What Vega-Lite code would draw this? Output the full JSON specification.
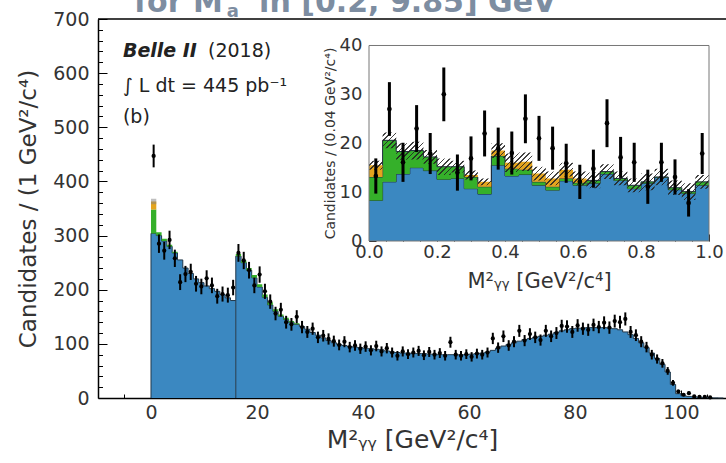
{
"$schema": "https://vega.github.io/schema/vega-lite/v6.json",
"width": 628, "height": 379,
"autosize": {"type": "none"},
"padding": {"left": 98, "top": 19, "right": 0, "bottom": 65},
"background": "white",
"config": {"font": "DejaVu Sans", "view": {"stroke": null},
  "axis": {"grid": false, "labelColor": "#333333", "titleColor": "#333333", "titleFontWeight": "normal", "tickColor": "black", "domainColor": "black", "labelFont": "DejaVu Sans", "titleFont": "DejaVu Sans", "labelOverlap": false, "labelFlush": false, "labelBound": false}},
"datasets": {
 "mainBlue": [
  {"x":0,"s":"A","b":304},{"x":1,"s":"A","b":300},{"x":2,"s":"A","b":290},{"x":3,"s":"A","b":280},{"x":4,"s":"A","b":268},{"x":5,"s":"A","b":255},{"x":6,"s":"A","b":240},{"x":7,"s":"A","b":230},{"x":8,"s":"A","b":220},{"x":9,"s":"A","b":213},{"x":10,"s":"A","b":207},{"x":11,"s":"A","b":202},{"x":12,"s":"A","b":197},{"x":13,"s":"A","b":191},{"x":14,"s":"A","b":185},{"x":15,"s":"A","b":180},{"x":16,"s":"A","b":180},
  {"x":16,"s":"B","b":262},{"x":17,"s":"B","b":250},{"x":18,"s":"B","b":236},{"x":19,"s":"B","b":222},{"x":20,"s":"B","b":205},{"x":21,"s":"B","b":186},{"x":22,"s":"B","b":172},{"x":23,"s":"B","b":160},{"x":24,"s":"B","b":151},{"x":25,"s":"B","b":145},{"x":26,"s":"B","b":140},{"x":27,"s":"B","b":136},{"x":28,"s":"B","b":132},{"x":29,"s":"B","b":127},{"x":30,"s":"B","b":121},{"x":31,"s":"B","b":116},{"x":32,"s":"B","b":111},{"x":33,"s":"B","b":106},{"x":34,"s":"B","b":102},{"x":35,"s":"B","b":99},{"x":36,"s":"B","b":97},{"x":37,"s":"B","b":95},{"x":38,"s":"B","b":94},{"x":39,"s":"B","b":93},{"x":40,"s":"B","b":92},{"x":41,"s":"B","b":91},{"x":42,"s":"B","b":90},{"x":43,"s":"B","b":89},{"x":44,"s":"B","b":87},{"x":45,"s":"B","b":85},{"x":46,"s":"B","b":84},{"x":47,"s":"B","b":83},{"x":48,"s":"B","b":83},{"x":49,"s":"B","b":82},{"x":50,"s":"B","b":82},{"x":51,"s":"B","b":82},{"x":52,"s":"B","b":81},{"x":53,"s":"B","b":81},{"x":54,"s":"B","b":80},{"x":55,"s":"B","b":80},{"x":56,"s":"B","b":80},{"x":57,"s":"B","b":80},{"x":58,"s":"B","b":80},{"x":59,"s":"B","b":80},{"x":60,"s":"B","b":81},{"x":61,"s":"B","b":82},{"x":62,"s":"B","b":83},{"x":63,"s":"B","b":85},{"x":64,"s":"B","b":88},{"x":65,"s":"B","b":92},{"x":66,"s":"B","b":96},{"x":67,"s":"B","b":99},{"x":68,"s":"B","b":102},{"x":69,"s":"B","b":105},{"x":70,"s":"B","b":108},{"x":71,"s":"B","b":110},{"x":72,"s":"B","b":112},{"x":73,"s":"B","b":114},{"x":74,"s":"B","b":116},{"x":75,"s":"B","b":118},{"x":76,"s":"B","b":121},{"x":77,"s":"B","b":124},{"x":78,"s":"B","b":126},{"x":79,"s":"B","b":128},{"x":80,"s":"B","b":129},{"x":81,"s":"B","b":129},{"x":82,"s":"B","b":130},{"x":83,"s":"B","b":130},{"x":84,"s":"B","b":130},{"x":85,"s":"B","b":130},{"x":86,"s":"B","b":129},{"x":87,"s":"B","b":128},{"x":88,"s":"B","b":126},{"x":89,"s":"B","b":122},{"x":90,"s":"B","b":117},{"x":91,"s":"B","b":110},{"x":92,"s":"B","b":102},{"x":93,"s":"B","b":93},{"x":94,"s":"B","b":83},{"x":95,"s":"B","b":73},{"x":96,"s":"B","b":62},{"x":97,"s":"B","b":48},{"x":98,"s":"B","b":25},{"x":99,"s":"B","b":8},{"x":100,"s":"B","b":4},{"x":101,"s":"B","b":3},{"x":102,"s":"B","b":2},{"x":103,"s":"B","b":1.5},{"x":104,"s":"B","b":1},{"x":105,"s":"B","b":0.5},{"x":106,"s":"B","b":0.2},{"x":107,"s":"B","b":0},{"x":108,"s":"B","b":0}
 ],
 "mainGreen": [
  {"x":0,"s":"A","b":304,"g":348},{"x":1,"s":"A","b":300,"g":306},{"x":2,"s":"A","b":290,"g":294},{"x":3,"s":"A","b":280,"g":283},{"x":4,"s":"A","b":268,"g":270},{"x":5,"s":"A","b":255,"g":255},
  {"x":16,"s":"B","b":262,"g":266},{"x":17,"s":"B","b":250,"g":254},{"x":18,"s":"B","b":236,"g":240},{"x":19,"s":"B","b":222,"g":227},{"x":20,"s":"B","b":205,"g":210},{"x":21,"s":"B","b":186,"g":191},{"x":22,"s":"B","b":172,"g":177},{"x":23,"s":"B","b":160,"g":164},{"x":24,"s":"B","b":151,"g":154},{"x":25,"s":"B","b":145,"g":148},{"x":26,"s":"B","b":140,"g":142},{"x":27,"s":"B","b":136,"g":138},{"x":28,"s":"B","b":132,"g":132}
 ],
 "mainOrange": [{"x":0,"g":348,"o":363,"hl":358,"hh":368},{"x":1,"g":348,"o":363,"hl":358,"hh":368}],
 "mainPts": [
  {"x":0.5,"n":447,"l":426,"h":468},{"x":1.5,"n":285,"l":268,"h":302},{"x":2.5,"n":272,"l":255.5,"h":288.5},{"x":3.5,"n":292,"l":275,"h":309},{"x":4.5,"n":258,"l":242,"h":274},{"x":5.5,"n":214,"l":199.4,"h":228.6},{"x":6.5,"n":229,"l":214,"h":244},{"x":7.5,"n":233,"l":218,"h":248},{"x":8.5,"n":211,"l":196.5,"h":225.5},{"x":9.5,"n":206,"l":191.6,"h":220.4},{"x":10.5,"n":221,"l":206.1,"h":235.9},{"x":11.5,"n":208,"l":193.6,"h":222.4},{"x":12.5,"n":188,"l":174.3,"h":201.7},{"x":13.5,"n":192,"l":178.1,"h":205.9},{"x":14.5,"n":190,"l":176.2,"h":203.8},{"x":15.5,"n":204,"l":189.7,"h":218.3},
  {"x":16.5,"n":268,"l":251.6,"h":284.4},{"x":17.5,"n":254,"l":238,"h":270},{"x":18.5,"n":236,"l":220.6,"h":251.4},{"x":19.5,"n":208,"l":193.6,"h":222.4},{"x":20.5,"n":228,"l":212.9,"h":243.1},{"x":21.5,"n":197,"l":183,"h":211},{"x":22.5,"n":178,"l":164.7,"h":191.3},{"x":23.5,"n":156,"l":143.5,"h":168.5},{"x":24.5,"n":163,"l":150.2,"h":175.8},{"x":25.5,"n":140,"l":128.2,"h":151.8},{"x":26.5,"n":136,"l":124.3,"h":147.7},{"x":27.5,"n":150,"l":137.8,"h":162.2},{"x":28.5,"n":131,"l":119.6,"h":142.4},{"x":29.5,"n":122,"l":111,"h":133},{"x":30.5,"n":128,"l":116.7,"h":139.3},{"x":31.5,"n":112,"l":101.4,"h":122.6},{"x":32.5,"n":115,"l":104.3,"h":125.7},{"x":33.5,"n":109,"l":98.6,"h":119.4},{"x":34.5,"n":105,"l":94.8,"h":115.2},{"x":35.5,"n":98,"l":88.1,"h":107.9},{"x":36.5,"n":104,"l":93.8,"h":114.2},{"x":37.5,"n":94,"l":84.3,"h":103.7},{"x":38.5,"n":97,"l":87.2,"h":106.8},{"x":39.5,"n":91,"l":81.5,"h":100.5},{"x":40.5,"n":95,"l":85.3,"h":104.7},{"x":41.5,"n":88,"l":78.6,"h":97.4},{"x":42.5,"n":96,"l":86.2,"h":105.8},{"x":43.5,"n":86,"l":76.7,"h":95.3},{"x":44.5,"n":92,"l":82.4,"h":101.6},{"x":45.5,"n":84,"l":74.8,"h":93.2},{"x":46.5,"n":78,"l":69.2,"h":86.8},{"x":47.5,"n":86,"l":76.7,"h":95.3},{"x":48.5,"n":81,"l":72,"h":90},{"x":49.5,"n":84,"l":74.8,"h":93.2},{"x":50.5,"n":87,"l":77.7,"h":96.3},{"x":51.5,"n":79,"l":70.1,"h":87.9},{"x":52.5,"n":85,"l":75.8,"h":94.2},{"x":53.5,"n":80,"l":71.1,"h":88.9},{"x":54.5,"n":83,"l":73.9,"h":92.1},{"x":55.5,"n":78,"l":69.2,"h":86.8},{"x":56.5,"n":103,"l":92.9,"h":113.1},{"x":57.5,"n":80,"l":71.1,"h":88.9},{"x":58.5,"n":78,"l":69.2,"h":86.8},{"x":59.5,"n":81,"l":72,"h":90},{"x":60.5,"n":76,"l":67.3,"h":84.7},{"x":61.5,"n":82,"l":72.9,"h":91.1},{"x":62.5,"n":80,"l":71.1,"h":88.9},{"x":63.5,"n":84,"l":74.8,"h":93.2},{"x":64.5,"n":110,"l":99.5,"h":120.5},{"x":65.5,"n":93,"l":83.4,"h":102.6},{"x":66.5,"n":114,"l":103.3,"h":124.7},{"x":67.5,"n":97,"l":87.2,"h":106.8},{"x":68.5,"n":104,"l":93.8,"h":114.2},{"x":69.5,"n":124,"l":112.9,"h":135.1},{"x":70.5,"n":106,"l":95.7,"h":116.3},{"x":71.5,"n":118,"l":107.1,"h":128.9},{"x":72.5,"n":112,"l":101.4,"h":122.6},{"x":73.5,"n":107,"l":96.7,"h":117.3},{"x":74.5,"n":124,"l":112.9,"h":135.1},{"x":75.5,"n":114,"l":103.3,"h":124.7},{"x":76.5,"n":120,"l":109,"h":131},{"x":77.5,"n":133,"l":121.5,"h":144.5},{"x":78.5,"n":132,"l":120.5,"h":143.5},{"x":79.5,"n":122,"l":111,"h":133},{"x":80.5,"n":134,"l":122.4,"h":145.6},{"x":81.5,"n":128,"l":116.7,"h":139.3},{"x":82.5,"n":126,"l":114.8,"h":137.2},{"x":83.5,"n":135,"l":123.4,"h":146.6},{"x":84.5,"n":131,"l":119.6,"h":142.4},{"x":85.5,"n":139,"l":127.2,"h":150.8},{"x":86.5,"n":130,"l":118.6,"h":141.4},{"x":87.5,"n":142,"l":130.1,"h":153.9},{"x":88.5,"n":140,"l":128.2,"h":151.8},{"x":89.5,"n":146,"l":133.9,"h":158.1},{"x":90.5,"n":122,"l":111,"h":133},{"x":91.5,"n":116,"l":105.2,"h":126.8},{"x":92.5,"n":104,"l":93.8,"h":114.2},{"x":93.5,"n":94,"l":84.3,"h":103.7},{"x":94.5,"n":80,"l":71.1,"h":88.9},{"x":95.5,"n":72,"l":63.5,"h":80.5},{"x":96.5,"n":64,"l":56,"h":72},{"x":97.5,"n":50,"l":42.9,"h":57.1},{"x":98.5,"n":28,"l":22.7,"h":33.3},{"x":99.5,"n":12,"l":8.5,"h":15.5},{"x":100.5,"n":6,"l":3.6,"h":8.4},{"x":101.5,"n":9,"l":6,"h":12},{"x":102.5,"n":3,"l":1.3,"h":4.7},{"x":103.5,"n":2,"l":0.6,"h":3.4},{"x":104.5,"n":2,"l":0.6,"h":3.4},{"x":105.5,"n":1,"l":0,"h":2}
 ],
 "inset": [
  {"x":0.00,"b":8.3,"g":13.1,"o":15.5,"hl":14.6,"hh":16.4},
  {"x":0.04,"b":12.1,"g":20.6,"o":20.6,"hl":19.0,"hh":22.2},
  {"x":0.08,"b":13.7,"g":18.3,"o":18.3,"hl":16.6,"hh":20.0},
  {"x":0.12,"b":15.0,"g":18.5,"o":18.5,"hl":16.7,"hh":20.3},
  {"x":0.16,"b":14.4,"g":17.2,"o":17.2,"hl":15.8,"hh":18.6},
  {"x":0.20,"b":12.6,"g":15.2,"o":15.2,"hl":13.5,"hh":16.9},
  {"x":0.24,"b":12.8,"g":15.2,"o":15.2,"hl":14.0,"hh":16.4},
  {"x":0.28,"b":10.7,"g":13.1,"o":13.5,"hl":12.6,"hh":14.4},
  {"x":0.32,"b":9.6,"g":11.1,"o":12.1,"hl":11.4,"hh":12.8},
  {"x":0.36,"b":15.5,"g":17.4,"o":18.5,"hl":17.0,"hh":20.0},
  {"x":0.40,"b":13.3,"g":14.8,"o":16.0,"hl":14.1,"hh":17.9},
  {"x":0.44,"b":13.6,"g":14.6,"o":16.2,"hl":14.3,"hh":18.1},
  {"x":0.48,"b":11.4,"g":12.1,"o":13.8,"hl":12.4,"hh":15.2},
  {"x":0.52,"b":10.4,"g":11.1,"o":12.8,"hl":11.4,"hh":14.2},
  {"x":0.56,"b":12.3,"g":12.8,"o":14.6,"hl":13.2,"hh":16.0},
  {"x":0.60,"b":11.4,"g":11.9,"o":12.8,"hl":11.4,"hh":14.2},
  {"x":0.64,"b":11.8,"g":12.4,"o":12.4,"hl":10.8,"hh":14.0},
  {"x":0.68,"b":13.7,"g":14.2,"o":14.2,"hl":12.7,"hh":15.7},
  {"x":0.72,"b":12.4,"g":12.8,"o":12.8,"hl":11.4,"hh":14.2},
  {"x":0.76,"b":10.7,"g":11.4,"o":11.4,"hl":10.0,"hh":12.8},
  {"x":0.80,"b":11.8,"g":12.1,"o":12.1,"hl":10.4,"hh":13.8},
  {"x":0.84,"b":13.0,"g":13.1,"o":13.1,"hl":11.4,"hh":14.8},
  {"x":0.88,"b":10.5,"g":10.9,"o":10.9,"hl":9.4,"hh":12.4},
  {"x":0.92,"b":9.7,"g":10.1,"o":10.1,"hl":8.4,"hh":11.8},
  {"x":0.96,"b":11.4,"g":12.1,"o":12.1,"hl":10.7,"hh":13.5},
  {"x":1.00,"b":11.4,"g":12.1,"o":12.1,"hl":10.7,"hh":13.5}
 ],
 "insetPts": [
  {"x":0.02,"n":13.3,"l":9.7,"h":16.9},{"x":0.06,"n":27.0,"l":21.5,"h":32.5},{"x":0.10,"n":16.1,"l":12.1,"h":20.1},{"x":0.14,"n":23.0,"l":18.2,"h":27.8},{"x":0.18,"n":17.9,"l":13.7,"h":22.1},{"x":0.22,"n":30.0,"l":24.5,"h":35.5},{"x":0.26,"n":14.0,"l":10.3,"h":17.7},{"x":0.30,"n":16.9,"l":12.4,"h":21.4},{"x":0.34,"n":22.0,"l":17.3,"h":26.7},{"x":0.38,"n":18.9,"l":14.6,"h":23.2},{"x":0.42,"n":18.0,"l":13.6,"h":22.4},{"x":0.46,"n":25.0,"l":20.0,"h":30.0},{"x":0.50,"n":21.0,"l":16.4,"h":25.6},{"x":0.54,"n":19.0,"l":14.6,"h":23.4},{"x":0.58,"n":15.9,"l":11.9,"h":19.9},{"x":0.62,"n":12.1,"l":8.6,"h":15.6},{"x":0.66,"n":14.8,"l":10.9,"h":18.7},{"x":0.70,"n":24.1,"l":19.2,"h":29.0},{"x":0.74,"n":17.1,"l":12.9,"h":21.3},{"x":0.78,"n":16.1,"l":12.1,"h":20.1},{"x":0.82,"n":11.1,"l":7.6,"h":14.6},{"x":0.86,"n":16.1,"l":12.1,"h":20.1},{"x":0.90,"n":13.1,"l":9.5,"h":16.7},{"x":0.94,"n":7.8,"l":5.0,"h":10.6},{"x":0.98,"n":17.9,"l":13.7,"h":22.1}
 ]
},
"layer": [
 {"layer": [
  {"data": {"name": "mainBlue"},
   "mark": {"type": "area", "interpolate": "step-after", "color": "#3B88C1", "opacity": 1, "line": {"color": "#22384a", "strokeWidth": 1}},
   "encoding": {
    "x": {"field": "x", "type": "quantitative", "scale": {"domain": [-10, 108.5], "nice": false, "zero": false},
      "axis": {"orient": "bottom", "title": "M²ᵧᵧ [GeV²/c⁴]", "values": [0,20,40,60,80,100], "labelOverlap": false,
        "tickSize": -8, "domainWidth": 1.5, "tickWidth": 1, "labelFontSize": 19, "titleFontSize": 25, "labelPadding": 13, "titlePadding": 5}},
    "y": {"field": "b", "type": "quantitative", "stack": null, "scale": {"domain": [0, 700], "nice": false},
      "axis": {"orient": "left", "title": "Candidates / (1 GeV²/c⁴)", "values": [0,100,200,300,400,500,600,700], "labelOverlap": false,
        "tickSize": -9, "domainWidth": 1.5, "tickWidth": 1, "labelFontSize": 19, "titleFontSize": 23, "labelPadding": 18, "titlePadding": 12}},
    "detail": {"field": "s", "type": "nominal"}}},
  {"data": {"values": [{"a": -10, "b": 108.5, "y": 700}]},
   "mark": {"type": "rule", "color": "black", "strokeWidth": 1.5},
   "encoding": {
    "x": {"field": "a", "type": "quantitative",
      "axis": {"orient": "bottom", "title": null, "labels": false, "domain": false, "values": [-5,5,10,15,25,30,35,45,50,55,65,70,75,85,90,95,105], "tickSize": -4, "tickWidth": 1}},
    "x2": {"field": "b"},
    "y": {"field": "y", "type": "quantitative",
      "axis": {"orient": "left", "title": null, "labels": false, "domain": false, "values": [20,40,60,80,120,140,160,180,220,240,260,280,320,340,360,380,420,440,460,480,520,540,560,580,620,640,660,680], "tickSize": -4.5, "tickWidth": 1}}}},
  {"data": {"name": "mainGreen"},
   "mark": {"type": "area", "interpolate": "step-after", "color": "#35B02A", "opacity": 1},
   "encoding": {"x": {"field": "x", "type": "quantitative", "axis": null}, "y": {"field": "g", "type": "quantitative", "axis": null}, "y2": {"field": "b"}, "detail": {"field": "s", "type": "nominal"}}},
  {"data": {"name": "mainOrange"},
   "mark": {"type": "area", "interpolate": "step-after", "color": "#E3A41E", "opacity": 1},
   "encoding": {"x": {"field": "x", "type": "quantitative", "axis": null}, "y": {"field": "o", "type": "quantitative", "axis": null}, "y2": {"field": "g"}}},
  {"data": {"name": "mainOrange"},
   "mark": {"type": "area", "interpolate": "step-after", "color": "#808080", "opacity": 0.5},
   "encoding": {"x": {"field": "x", "type": "quantitative", "axis": null}, "y": {"field": "hh", "type": "quantitative", "axis": null}, "y2": {"field": "hl"}}},
  {"data": {"values": [{"x": 0, "y0": 0, "y": 304}, {"x": 16, "y0": 0, "y": 262}]},
   "mark": {"type": "rule", "color": "#22384a", "strokeWidth": 1},
   "encoding": {"x": {"field": "x", "type": "quantitative", "axis": null}, "y": {"field": "y0", "type": "quantitative", "axis": null}, "y2": {"field": "y"}}},
  {"data": {"name": "mainPts"},
   "mark": {"type": "rule", "strokeWidth": 2, "color": "black"},
   "encoding": {"x": {"field": "x", "type": "quantitative", "axis": null}, "y": {"field": "l", "type": "quantitative", "axis": null}, "y2": {"field": "h"}}},
  {"data": {"name": "mainPts"},
   "mark": {"type": "point", "filled": true, "color": "black", "size": 18, "opacity": 1},
   "encoding": {"x": {"field": "x", "type": "quantitative", "axis": null}, "y": {"field": "n", "type": "quantitative", "axis": null}}},
  {"data": {"values": [{"x": -5.3, "y": 630, "t": "Belle II"}]},
   "mark": {"type": "text", "align": "left", "baseline": "alphabetic", "fontSize": 19, "fontWeight": "bold", "fontStyle": "italic", "color": "#222222"},
   "encoding": {"x": {"field": "x", "type": "quantitative", "axis": null}, "y": {"field": "y", "type": "quantitative", "axis": null}, "text": {"field": "t", "type": "nominal"}}},
  {"data": {"values": [{"x": 10.75, "y": 630, "t": "(2018)"}, {"x": -5.3, "y": 566, "t": "∫ L dt = 445 pb⁻¹"}, {"x": -5.3, "y": 508, "t": "(b)"}]},
   "mark": {"type": "text", "align": "left", "baseline": "alphabetic", "fontSize": 19, "color": "#222222"},
   "encoding": {"x": {"field": "x", "type": "quantitative", "axis": null}, "y": {"field": "y", "type": "quantitative", "axis": null}, "text": {"field": "t", "type": "nominal"}}},
  {"data": {"values": [{"x": -3.2, "y": 713, "t": "for M"}, {"x": 20.4, "y": 713, "t": "in [0.2, 9.85] GeV"}]},
   "mark": {"type": "text", "align": "left", "baseline": "alphabetic", "fontSize": 30, "fontWeight": "bold", "color": "#7d8da1"},
   "encoding": {"x": {"field": "x", "type": "quantitative", "axis": null}, "y": {"field": "y", "type": "quantitative", "axis": null}, "text": {"field": "t", "type": "nominal"}}},
  {"data": {"values": [{"x": 14.3, "y": 703.5, "t": "a"}]},
   "mark": {"type": "text", "align": "left", "baseline": "alphabetic", "fontSize": 18, "fontWeight": "bold", "color": "#7d8da1"},
   "encoding": {"x": {"field": "x", "type": "quantitative", "axis": null}, "y": {"field": "y", "type": "quantitative", "axis": null}, "text": {"field": "t", "type": "nominal"}}}
 ],
 "resolve": {"axis": {"x": "independent", "y": "independent"}}},
 {"layer": [
  {"data": {"values": [{"a": 0, "b": 1, "c": 0, "d": 40}]},
   "mark": {"type": "rect", "fill": "white", "strokeWidth": 0},
   "encoding": {
    "x": {"field": "a", "type": "quantitative", "scale": {"domain": [-0.7971, 1.05], "nice": false, "zero": false},
      "axis": {"orient": "bottom", "offset": -157, "domain": false, "title": "M²ᵧᵧ [GeV²/c⁴]", "titleX": 441, "titleAlign": "center",
        "values": [0, 0.2, 0.4, 0.6, 0.8, 1.0], "format": ".1f", "labelOverlap": false,
        "tickSize": -7, "labelFontSize": 18, "titleFontSize": 21, "labelPadding": 9, "titlePadding": 9}},
    "x2": {"field": "b"},
    "y": {"field": "c", "type": "quantitative", "scale": {"domain": [-32.12, 45.42], "nice": false, "zero": false},
      "axis": {"orient": "left", "offset": -271, "domain": false, "title": "Candidates / (0.04 GeV²/c⁴)", "titleY": 124, "titleAlign": "center",
        "values": [0, 10, 20, 30, 40], "labelOverlap": false,
        "tickSize": -7, "labelFontSize": 18, "titleFontSize": 14, "labelPadding": 14, "titlePadding": 2}},
    "y2": {"field": "d"}}},
  {"data": {"name": "inset"},
   "mark": {"type": "area", "interpolate": "step-after", "color": "#3B88C1", "opacity": 1, "line": {"color": "#1c2c3c", "strokeWidth": 1}},
   "encoding": {"x": {"field": "x", "type": "quantitative", "axis": null}, "y": {"field": "b", "type": "quantitative", "stack": null, "axis": null}}},
  {"data": {"name": "inset"},
   "mark": {"type": "area", "interpolate": "step-after", "color": "#35B02A", "opacity": 1, "line": {"color": "#1c2c3c", "strokeWidth": 1}},
   "encoding": {"x": {"field": "x", "type": "quantitative", "axis": null}, "y": {"field": "g", "type": "quantitative", "axis": null}, "y2": {"field": "b"}}},
  {"data": {"name": "inset"},
   "mark": {"type": "area", "interpolate": "step-after", "color": "#E3A41E", "opacity": 1},
   "encoding": {"x": {"field": "x", "type": "quantitative", "axis": null}, "y": {"field": "o", "type": "quantitative", "axis": null}, "y2": {"field": "g"}}},
  {"data": {"name": "inset"},
   "mark": {"type": "area", "interpolate": "step-after", "opacity": 0.85,
     "fill": {"gradient": "linear", "x1": 0, "y1": 0, "x2": 1.2, "y2": 0.238, "stops": [
      {"offset":0,"color":"#222"},{"offset":0.004,"color":"#222"},{"offset":0.004,"color":"rgba(0,0,0,0)"},{"offset":0.0125,"color":"rgba(0,0,0,0)"},
      {"offset":0.0125,"color":"#222"},{"offset":0.0165,"color":"#222"},{"offset":0.0165,"color":"rgba(0,0,0,0)"},{"offset":0.025,"color":"rgba(0,0,0,0)"},
      {"offset":0.025,"color":"#222"},{"offset":0.029,"color":"#222"},{"offset":0.029,"color":"rgba(0,0,0,0)"},{"offset":0.0375,"color":"rgba(0,0,0,0)"},
      {"offset":0.0375,"color":"#222"},{"offset":0.0415,"color":"#222"},{"offset":0.0415,"color":"rgba(0,0,0,0)"},{"offset":0.05,"color":"rgba(0,0,0,0)"},
      {"offset":0.05,"color":"#222"},{"offset":0.054,"color":"#222"},{"offset":0.054,"color":"rgba(0,0,0,0)"},{"offset":0.0625,"color":"rgba(0,0,0,0)"},
      {"offset":0.0625,"color":"#222"},{"offset":0.0665,"color":"#222"},{"offset":0.0665,"color":"rgba(0,0,0,0)"},{"offset":0.075,"color":"rgba(0,0,0,0)"},
      {"offset":0.075,"color":"#222"},{"offset":0.079,"color":"#222"},{"offset":0.079,"color":"rgba(0,0,0,0)"},{"offset":0.0875,"color":"rgba(0,0,0,0)"},
      {"offset":0.0875,"color":"#222"},{"offset":0.0915,"color":"#222"},{"offset":0.0915,"color":"rgba(0,0,0,0)"},{"offset":0.1,"color":"rgba(0,0,0,0)"},
      {"offset":0.1,"color":"#222"},{"offset":0.104,"color":"#222"},{"offset":0.104,"color":"rgba(0,0,0,0)"},{"offset":0.1125,"color":"rgba(0,0,0,0)"},
      {"offset":0.1125,"color":"#222"},{"offset":0.1165,"color":"#222"},{"offset":0.1165,"color":"rgba(0,0,0,0)"},{"offset":0.125,"color":"rgba(0,0,0,0)"},
      {"offset":0.125,"color":"#222"},{"offset":0.129,"color":"#222"},{"offset":0.129,"color":"rgba(0,0,0,0)"},{"offset":0.1375,"color":"rgba(0,0,0,0)"},
      {"offset":0.1375,"color":"#222"},{"offset":0.1415,"color":"#222"},{"offset":0.1415,"color":"rgba(0,0,0,0)"},{"offset":0.15,"color":"rgba(0,0,0,0)"},
      {"offset":0.15,"color":"#222"},{"offset":0.154,"color":"#222"},{"offset":0.154,"color":"rgba(0,0,0,0)"},{"offset":0.1625,"color":"rgba(0,0,0,0)"},
      {"offset":0.1625,"color":"#222"},{"offset":0.1665,"color":"#222"},{"offset":0.1665,"color":"rgba(0,0,0,0)"},{"offset":0.175,"color":"rgba(0,0,0,0)"},
      {"offset":0.175,"color":"#222"},{"offset":0.179,"color":"#222"},{"offset":0.179,"color":"rgba(0,0,0,0)"},{"offset":0.1875,"color":"rgba(0,0,0,0)"},
      {"offset":0.1875,"color":"#222"},{"offset":0.1915,"color":"#222"},{"offset":0.1915,"color":"rgba(0,0,0,0)"},{"offset":0.2,"color":"rgba(0,0,0,0)"},
      {"offset":0.2,"color":"#222"},{"offset":0.204,"color":"#222"},{"offset":0.204,"color":"rgba(0,0,0,0)"},{"offset":0.2125,"color":"rgba(0,0,0,0)"},
      {"offset":0.2125,"color":"#222"},{"offset":0.2165,"color":"#222"},{"offset":0.2165,"color":"rgba(0,0,0,0)"},{"offset":0.225,"color":"rgba(0,0,0,0)"},
      {"offset":0.225,"color":"#222"},{"offset":0.229,"color":"#222"},{"offset":0.229,"color":"rgba(0,0,0,0)"},{"offset":0.2375,"color":"rgba(0,0,0,0)"},
      {"offset":0.2375,"color":"#222"},{"offset":0.2415,"color":"#222"},{"offset":0.2415,"color":"rgba(0,0,0,0)"},{"offset":0.25,"color":"rgba(0,0,0,0)"},
      {"offset":0.25,"color":"#222"},{"offset":0.254,"color":"#222"},{"offset":0.254,"color":"rgba(0,0,0,0)"},{"offset":0.2625,"color":"rgba(0,0,0,0)"},
      {"offset":0.2625,"color":"#222"},{"offset":0.2665,"color":"#222"},{"offset":0.2665,"color":"rgba(0,0,0,0)"},{"offset":0.275,"color":"rgba(0,0,0,0)"},
      {"offset":0.275,"color":"#222"},{"offset":0.279,"color":"#222"},{"offset":0.279,"color":"rgba(0,0,0,0)"},{"offset":0.2875,"color":"rgba(0,0,0,0)"},
      {"offset":0.2875,"color":"#222"},{"offset":0.2915,"color":"#222"},{"offset":0.2915,"color":"rgba(0,0,0,0)"},{"offset":0.3,"color":"rgba(0,0,0,0)"},
      {"offset":0.3,"color":"#222"},{"offset":0.304,"color":"#222"},{"offset":0.304,"color":"rgba(0,0,0,0)"},{"offset":0.3125,"color":"rgba(0,0,0,0)"},
      {"offset":0.3125,"color":"#222"},{"offset":0.3165,"color":"#222"},{"offset":0.3165,"color":"rgba(0,0,0,0)"},{"offset":0.325,"color":"rgba(0,0,0,0)"},
      {"offset":0.325,"color":"#222"},{"offset":0.329,"color":"#222"},{"offset":0.329,"color":"rgba(0,0,0,0)"},{"offset":0.3375,"color":"rgba(0,0,0,0)"},
      {"offset":0.3375,"color":"#222"},{"offset":0.3415,"color":"#222"},{"offset":0.3415,"color":"rgba(0,0,0,0)"},{"offset":0.35,"color":"rgba(0,0,0,0)"},
      {"offset":0.35,"color":"#222"},{"offset":0.354,"color":"#222"},{"offset":0.354,"color":"rgba(0,0,0,0)"},{"offset":0.3625,"color":"rgba(0,0,0,0)"},
      {"offset":0.3625,"color":"#222"},{"offset":0.3665,"color":"#222"},{"offset":0.3665,"color":"rgba(0,0,0,0)"},{"offset":0.375,"color":"rgba(0,0,0,0)"},
      {"offset":0.375,"color":"#222"},{"offset":0.379,"color":"#222"},{"offset":0.379,"color":"rgba(0,0,0,0)"},{"offset":0.3875,"color":"rgba(0,0,0,0)"},
      {"offset":0.3875,"color":"#222"},{"offset":0.3915,"color":"#222"},{"offset":0.3915,"color":"rgba(0,0,0,0)"},{"offset":0.4,"color":"rgba(0,0,0,0)"},
      {"offset":0.4,"color":"#222"},{"offset":0.404,"color":"#222"},{"offset":0.404,"color":"rgba(0,0,0,0)"},{"offset":0.4125,"color":"rgba(0,0,0,0)"},
      {"offset":0.4125,"color":"#222"},{"offset":0.4165,"color":"#222"},{"offset":0.4165,"color":"rgba(0,0,0,0)"},{"offset":0.425,"color":"rgba(0,0,0,0)"},
      {"offset":0.425,"color":"#222"},{"offset":0.429,"color":"#222"},{"offset":0.429,"color":"rgba(0,0,0,0)"},{"offset":0.4375,"color":"rgba(0,0,0,0)"},
      {"offset":0.4375,"color":"#222"},{"offset":0.4415,"color":"#222"},{"offset":0.4415,"color":"rgba(0,0,0,0)"},{"offset":0.45,"color":"rgba(0,0,0,0)"},
      {"offset":0.45,"color":"#222"},{"offset":0.454,"color":"#222"},{"offset":0.454,"color":"rgba(0,0,0,0)"},{"offset":0.4625,"color":"rgba(0,0,0,0)"},
      {"offset":0.4625,"color":"#222"},{"offset":0.4665,"color":"#222"},{"offset":0.4665,"color":"rgba(0,0,0,0)"},{"offset":0.475,"color":"rgba(0,0,0,0)"},
      {"offset":0.475,"color":"#222"},{"offset":0.479,"color":"#222"},{"offset":0.479,"color":"rgba(0,0,0,0)"},{"offset":0.4875,"color":"rgba(0,0,0,0)"},
      {"offset":0.4875,"color":"#222"},{"offset":0.4915,"color":"#222"},{"offset":0.4915,"color":"rgba(0,0,0,0)"},{"offset":0.5,"color":"rgba(0,0,0,0)"},
      {"offset":0.5,"color":"#222"},{"offset":0.504,"color":"#222"},{"offset":0.504,"color":"rgba(0,0,0,0)"},{"offset":0.5125,"color":"rgba(0,0,0,0)"},
      {"offset":0.5125,"color":"#222"},{"offset":0.5165,"color":"#222"},{"offset":0.5165,"color":"rgba(0,0,0,0)"},{"offset":0.525,"color":"rgba(0,0,0,0)"},
      {"offset":0.525,"color":"#222"},{"offset":0.529,"color":"#222"},{"offset":0.529,"color":"rgba(0,0,0,0)"},{"offset":0.5375,"color":"rgba(0,0,0,0)"},
      {"offset":0.5375,"color":"#222"},{"offset":0.5415,"color":"#222"},{"offset":0.5415,"color":"rgba(0,0,0,0)"},{"offset":0.55,"color":"rgba(0,0,0,0)"},
      {"offset":0.55,"color":"#222"},{"offset":0.554,"color":"#222"},{"offset":0.554,"color":"rgba(0,0,0,0)"},{"offset":0.5625,"color":"rgba(0,0,0,0)"},
      {"offset":0.5625,"color":"#222"},{"offset":0.5665,"color":"#222"},{"offset":0.5665,"color":"rgba(0,0,0,0)"},{"offset":0.575,"color":"rgba(0,0,0,0)"},
      {"offset":0.575,"color":"#222"},{"offset":0.579,"color":"#222"},{"offset":0.579,"color":"rgba(0,0,0,0)"},{"offset":0.5875,"color":"rgba(0,0,0,0)"},
      {"offset":0.5875,"color":"#222"},{"offset":0.5915,"color":"#222"},{"offset":0.5915,"color":"rgba(0,0,0,0)"},{"offset":0.6,"color":"rgba(0,0,0,0)"},
      {"offset":0.6,"color":"#222"},{"offset":0.604,"color":"#222"},{"offset":0.604,"color":"rgba(0,0,0,0)"},{"offset":0.6125,"color":"rgba(0,0,0,0)"},
      {"offset":0.6125,"color":"#222"},{"offset":0.6165,"color":"#222"},{"offset":0.6165,"color":"rgba(0,0,0,0)"},{"offset":0.625,"color":"rgba(0,0,0,0)"},
      {"offset":0.625,"color":"#222"},{"offset":0.629,"color":"#222"},{"offset":0.629,"color":"rgba(0,0,0,0)"},{"offset":0.6375,"color":"rgba(0,0,0,0)"},
      {"offset":0.6375,"color":"#222"},{"offset":0.6415,"color":"#222"},{"offset":0.6415,"color":"rgba(0,0,0,0)"},{"offset":0.65,"color":"rgba(0,0,0,0)"},
      {"offset":0.65,"color":"#222"},{"offset":0.654,"color":"#222"},{"offset":0.654,"color":"rgba(0,0,0,0)"},{"offset":0.6625,"color":"rgba(0,0,0,0)"},
      {"offset":0.6625,"color":"#222"},{"offset":0.6665,"color":"#222"},{"offset":0.6665,"color":"rgba(0,0,0,0)"},{"offset":0.675,"color":"rgba(0,0,0,0)"},
      {"offset":0.675,"color":"#222"},{"offset":0.679,"color":"#222"},{"offset":0.679,"color":"rgba(0,0,0,0)"},{"offset":0.6875,"color":"rgba(0,0,0,0)"},
      {"offset":0.6875,"color":"#222"},{"offset":0.6915,"color":"#222"},{"offset":0.6915,"color":"rgba(0,0,0,0)"},{"offset":0.7,"color":"rgba(0,0,0,0)"},
      {"offset":0.7,"color":"#222"},{"offset":0.704,"color":"#222"},{"offset":0.704,"color":"rgba(0,0,0,0)"},{"offset":0.7125,"color":"rgba(0,0,0,0)"},
      {"offset":0.7125,"color":"#222"},{"offset":0.7165,"color":"#222"},{"offset":0.7165,"color":"rgba(0,0,0,0)"},{"offset":0.725,"color":"rgba(0,0,0,0)"},
      {"offset":0.725,"color":"#222"},{"offset":0.729,"color":"#222"},{"offset":0.729,"color":"rgba(0,0,0,0)"},{"offset":0.7375,"color":"rgba(0,0,0,0)"},
      {"offset":0.7375,"color":"#222"},{"offset":0.7415,"color":"#222"},{"offset":0.7415,"color":"rgba(0,0,0,0)"},{"offset":0.75,"color":"rgba(0,0,0,0)"},
      {"offset":0.75,"color":"#222"},{"offset":0.754,"color":"#222"},{"offset":0.754,"color":"rgba(0,0,0,0)"},{"offset":0.7625,"color":"rgba(0,0,0,0)"},
      {"offset":0.7625,"color":"#222"},{"offset":0.7665,"color":"#222"},{"offset":0.7665,"color":"rgba(0,0,0,0)"},{"offset":0.775,"color":"rgba(0,0,0,0)"},
      {"offset":0.775,"color":"#222"},{"offset":0.779,"color":"#222"},{"offset":0.779,"color":"rgba(0,0,0,0)"},{"offset":0.7875,"color":"rgba(0,0,0,0)"},
      {"offset":0.7875,"color":"#222"},{"offset":0.7915,"color":"#222"},{"offset":0.7915,"color":"rgba(0,0,0,0)"},{"offset":0.8,"color":"rgba(0,0,0,0)"},
      {"offset":0.8,"color":"#222"},{"offset":0.804,"color":"#222"},{"offset":0.804,"color":"rgba(0,0,0,0)"},{"offset":0.8125,"color":"rgba(0,0,0,0)"},
      {"offset":0.8125,"color":"#222"},{"offset":0.8165,"color":"#222"},{"offset":0.8165,"color":"rgba(0,0,0,0)"},{"offset":0.825,"color":"rgba(0,0,0,0)"},
      {"offset":0.825,"color":"#222"},{"offset":0.829,"color":"#222"},{"offset":0.829,"color":"rgba(0,0,0,0)"},{"offset":0.8375,"color":"rgba(0,0,0,0)"},
      {"offset":0.8375,"color":"#222"},{"offset":0.8415,"color":"#222"},{"offset":0.8415,"color":"rgba(0,0,0,0)"},{"offset":0.85,"color":"rgba(0,0,0,0)"},
      {"offset":0.85,"color":"#222"},{"offset":0.854,"color":"#222"},{"offset":0.854,"color":"rgba(0,0,0,0)"},{"offset":0.8625,"color":"rgba(0,0,0,0)"},
      {"offset":0.8625,"color":"#222"},{"offset":0.8665,"color":"#222"},{"offset":0.8665,"color":"rgba(0,0,0,0)"},{"offset":0.875,"color":"rgba(0,0,0,0)"},
      {"offset":0.875,"color":"#222"},{"offset":0.879,"color":"#222"},{"offset":0.879,"color":"rgba(0,0,0,0)"},{"offset":0.8875,"color":"rgba(0,0,0,0)"},
      {"offset":0.8875,"color":"#222"},{"offset":0.8915,"color":"#222"},{"offset":0.8915,"color":"rgba(0,0,0,0)"},{"offset":0.9,"color":"rgba(0,0,0,0)"},
      {"offset":0.9,"color":"#222"},{"offset":0.904,"color":"#222"},{"offset":0.904,"color":"rgba(0,0,0,0)"},{"offset":0.9125,"color":"rgba(0,0,0,0)"},
      {"offset":0.9125,"color":"#222"},{"offset":0.9165,"color":"#222"},{"offset":0.9165,"color":"rgba(0,0,0,0)"},{"offset":0.925,"color":"rgba(0,0,0,0)"},
      {"offset":0.925,"color":"#222"},{"offset":0.929,"color":"#222"},{"offset":0.929,"color":"rgba(0,0,0,0)"},{"offset":0.9375,"color":"rgba(0,0,0,0)"},
      {"offset":0.9375,"color":"#222"},{"offset":0.9415,"color":"#222"},{"offset":0.9415,"color":"rgba(0,0,0,0)"},{"offset":0.95,"color":"rgba(0,0,0,0)"},
      {"offset":0.95,"color":"#222"},{"offset":0.954,"color":"#222"},{"offset":0.954,"color":"rgba(0,0,0,0)"},{"offset":0.9625,"color":"rgba(0,0,0,0)"},
      {"offset":0.9625,"color":"#222"},{"offset":0.9665,"color":"#222"},{"offset":0.9665,"color":"rgba(0,0,0,0)"},{"offset":0.975,"color":"rgba(0,0,0,0)"},
      {"offset":0.975,"color":"#222"},{"offset":0.979,"color":"#222"},{"offset":0.979,"color":"rgba(0,0,0,0)"},{"offset":0.9875,"color":"rgba(0,0,0,0)"},
      {"offset":0.9875,"color":"#222"},{"offset":0.9915,"color":"#222"},{"offset":0.9915,"color":"rgba(0,0,0,0)"},{"offset":1,"color":"rgba(0,0,0,0)"}
     ]}},
   "encoding": {"x": {"field": "x", "type": "quantitative", "axis": null}, "y": {"field": "hh", "type": "quantitative", "axis": null}, "y2": {"field": "hl"}}},
  {"data": {"name": "insetPts"},
   "mark": {"type": "rule", "strokeWidth": 3, "color": "black"},
   "encoding": {"x": {"field": "x", "type": "quantitative", "axis": null}, "y": {"field": "l", "type": "quantitative", "axis": null}, "y2": {"field": "h"}}},
  {"data": {"name": "insetPts"},
   "mark": {"type": "point", "filled": true, "color": "black", "size": 22, "opacity": 1},
   "encoding": {"x": {"field": "x", "type": "quantitative", "axis": null}, "y": {"field": "n", "type": "quantitative", "axis": null}}},
  {"data": {"values": [{"a": 0, "b": 1, "c": 0, "d": 40}]},
   "mark": {"type": "rect", "fillOpacity": 0, "stroke": "#777777", "strokeWidth": 1},
   "encoding": {
    "x": {"field": "a", "type": "quantitative",
      "axis": {"orient": "bottom", "offset": -157, "domain": false, "title": null, "labels": false,
        "values": [0.05,0.1,0.15,0.25,0.3,0.35,0.45,0.5,0.55,0.65,0.7,0.75,0.85,0.9,0.95], "tickSize": -3.5}},
    "x2": {"field": "b"},
    "y": {"field": "c", "type": "quantitative",
      "axis": {"orient": "left", "offset": -271, "domain": false, "title": null, "labels": false,
        "values": [2,4,6,8,12,14,16,18,22,24,26,28,32,34,36,38], "tickSize": -3.5}},
    "y2": {"field": "d"}}}
 ],
 "resolve": {"axis": {"x": "independent", "y": "independent"}}}
],
"resolve": {"scale": {"x": "independent", "y": "independent"}}
}
